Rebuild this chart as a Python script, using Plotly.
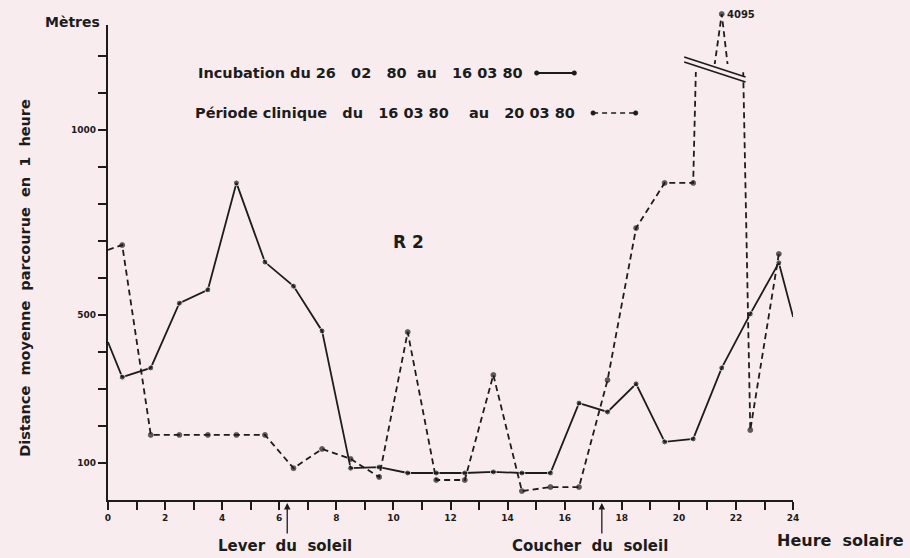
import plotly.graph_objects as go

# Heures solaires (milieu de chaque heure) et distances moyennes (m / heure)
heures_incubation = [0, 0.5, 1.5, 2.5, 3.5, 4.5, 5.5, 6.5, 7.5, 8.5, 9.5, 10.5, 11.5,
                     12.5, 13.5, 14.5, 15.5, 16.5, 17.5, 18.5, 19.5, 20.5, 21.5, 22.5, 23.5, 24]
distance_incubation = [427, 332, 357, 532, 568, 857, 643, 578, 457, 86, 89, 73, 73,
                       73, 76, 73, 73, 262, 238, 314, 157, 165, 357, 503, 641, 495]

heures_clinique = [0, 0.5, 1.5, 2.5, 3.5, 4.5, 5.5, 6.5, 7.5, 8.5, 9.5, 10.5, 11.5,
                   12.5, 13.5, 14.5, 15.5, 16.5, 17.5, 18.5, 19.5, 20.5, 21.5, 22.5, 23.5]
distance_clinique = [676, 689, 176, 176, 176, 176, 176, 86, 138, 111, 62, 454, 54,
                     54, 338, 24, 35, 35, 324, 735, 857, 857, 4095, 189, 665]

y_tickvals = [100, 200, 300, 400, 500, 600, 700, 800, 900, 1000, 1100]
y_ticktext = ["100", "", "", "", "500", "", "", "", "", "1000", ""]
x_tickvals = list(range(0, 25))
x_ticktext = [str(h) if h % 2 == 0 else "" for h in x_tickvals]

lever_soleil = 6.28
coucher_soleil = 17.3

INK = "#1c1c1c"
BG = "#f9ecef"
FONT = "DejaVu Sans"
W, H = 910, 558


def px(x):
    return x / W


def py(y):
    return 1 - y / H


# linear scale of the lower panel: 0 m at y=500 px, 0.37 px per metre
PX_PER_M = 0.37
LOW_TOP = 72      # top of the lower panel (px)
UP_BOT = 64       # bottom of the upper (broken) panel (px)
AXIS_TOP = 25     # top of the y-axis line (px)
low_max = (500 - LOW_TOP) / PX_PER_M
ext_max = (500 - AXIS_TOP) / PX_PER_M
up_min = 3300
up_slope = (4095 - up_min) / (UP_BOT - 14)
up_max = 4095 + 14 * up_slope

ends_inc = [0 if h in (0, 24) else 6 for h in heures_incubation]
ends_cli = [0 if h == 0 else 5 for h in heures_clinique]

fig = go.Figure()

fig.add_trace(go.Scatter(
    x=heures_incubation, y=distance_incubation, mode="lines+markers",
    line=dict(color=INK, width=1.8),
    marker=dict(color=INK, size=ends_inc, symbol="circle"),
    showlegend=False, hoverinfo="skip"))

clinique_style = dict(
    mode="lines+markers",
    line=dict(color=INK, width=1.8, dash="6px,4px"),
    marker=dict(color=INK, size=ends_cli, symbol="circle-x", line=dict(width=0.8, color=INK)),
    showlegend=False, hoverinfo="skip")

fig.add_trace(go.Scatter(x=heures_clinique, y=distance_clinique, yaxis="y", **clinique_style))
fig.add_trace(go.Scatter(x=heures_clinique, y=distance_clinique, yaxis="y2", **clinique_style))
# carrier for the upper piece of the y-axis line
fig.add_trace(go.Scatter(x=[None], y=[None], yaxis="y3", showlegend=False, hoverinfo="skip"))

tickfont = dict(family=FONT, size=9, color=INK, weight="bold")

fig.update_layout(
    width=W, height=H,
    margin=dict(l=0, r=0, t=0, b=0),
    paper_bgcolor=BG, plot_bgcolor="rgba(0,0,0,0)",
    xaxis=dict(domain=[px(106), px(798)], range=[0, 24], anchor="y",
               tickvals=x_tickvals, ticktext=x_ticktext, ticks="outside", ticklen=8,
               tickwidth=1.8, tickcolor=INK, showline=True, linecolor=INK, linewidth=2,
               showgrid=False, zeroline=False, tickfont=tickfont),
    yaxis=dict(domain=[py(500), py(LOW_TOP)], range=[0, low_max], anchor="x",
               tickvals=y_tickvals, ticktext=y_ticktext, ticks="outside", ticklen=8,
               tickwidth=1.8, tickcolor=INK, showline=True, linecolor=INK, linewidth=2,
               showgrid=False, zeroline=False, tickfont=tickfont),
    yaxis2=dict(domain=[py(UP_BOT), 1.0], range=[up_min, up_max], anchor="x",
                visible=False),
    yaxis3=dict(domain=[py(LOW_TOP), py(AXIS_TOP)], range=[low_max, ext_max], anchor="x",
                tickvals=[1200], ticktext=[""], ticks="outside", ticklen=8,
                tickwidth=1.8, tickcolor=INK, showline=True, linecolor=INK, linewidth=2,
                showgrid=False, zeroline=False),
)

shapes = []
# axis break on the clinical curve
shapes.append(dict(type="path", xref="paper", yref="paper", layer="above",
                   path=f"M {px(688)},{py(57)} L {px(750)},{py(77)} L {px(750)},{py(82)} L {px(688)},{py(62)} Z",
                   fillcolor=BG, line=dict(width=0)))
for off in (57, 62):
    shapes.append(dict(type="line", xref="paper", yref="paper", layer="above",
                       x0=px(688), y0=py(off), x1=px(750), y1=py(off + 20),
                       line=dict(color=INK, width=1.8)))

# legend samples
shapes.append(dict(type="line", xref="paper", yref="paper", x0=px(539), x1=px(577),
                   y0=py(73), y1=py(73), line=dict(color=INK, width=1.8)))
shapes.append(dict(type="line", xref="paper", yref="paper", x0=px(596), x1=px(639),
                   y0=py(113), y1=py(113), line=dict(color=INK, width=1.6, dash="5px,4px")))
for cx, cy in ((539, 73), (577, 73), (596, 113), (639, 113)):
    shapes.append(dict(type="circle", xref="paper", yref="paper",
                       x0=px(cx - 2.3), x1=px(cx + 2.3), y0=py(cy - 2.3), y1=py(cy + 2.3),
                       fillcolor=INK, line=dict(color=INK, width=0.5)))
fig.update_layout(shapes=shapes)


def label(text, x, y, size, xanchor="left", angle=0, bold=True):
    fig.add_annotation(text=text, xref="paper", yref="paper", x=px(x), y=py(y),
                       xanchor=xanchor, yanchor="middle", showarrow=False, textangle=angle,
                       font=dict(family=FONT, size=size, color=INK,
                                 weight="bold" if bold else "normal"))


label("Mètres", 100, 22, 14, xanchor="right")
label("Distance  moyenne  parcourue  en  1  heure", 22, 278, 14.5, xanchor="center", angle=-90)
label("Incubation du 26   02   80  au   16 03 80", 195, 73, 14.5)
label("Période clinique   du   16 03 80    au   20 03 80", 192, 113, 14.5)
label("R 2", 410, 242, 17, xanchor="center")
label("4095", 729, 14, 10)
label("Lever  du  soleil", 285, 546, 15, xanchor="center")
label("Coucher  du  soleil", 593, 546, 15, xanchor="center")
label("Heure  solaire", 780, 540, 16)

# sunrise / sunset arrows under the time axis
for h in (lever_soleil, coucher_soleil):
    fig.add_annotation(x=h, y=py(503), xref="x", yref="paper", text="", showarrow=True,
                       ax=0, ay=32, arrowhead=2, arrowsize=1, arrowwidth=1.3,
                       arrowcolor=INK)

fig.write_html("out.html")
